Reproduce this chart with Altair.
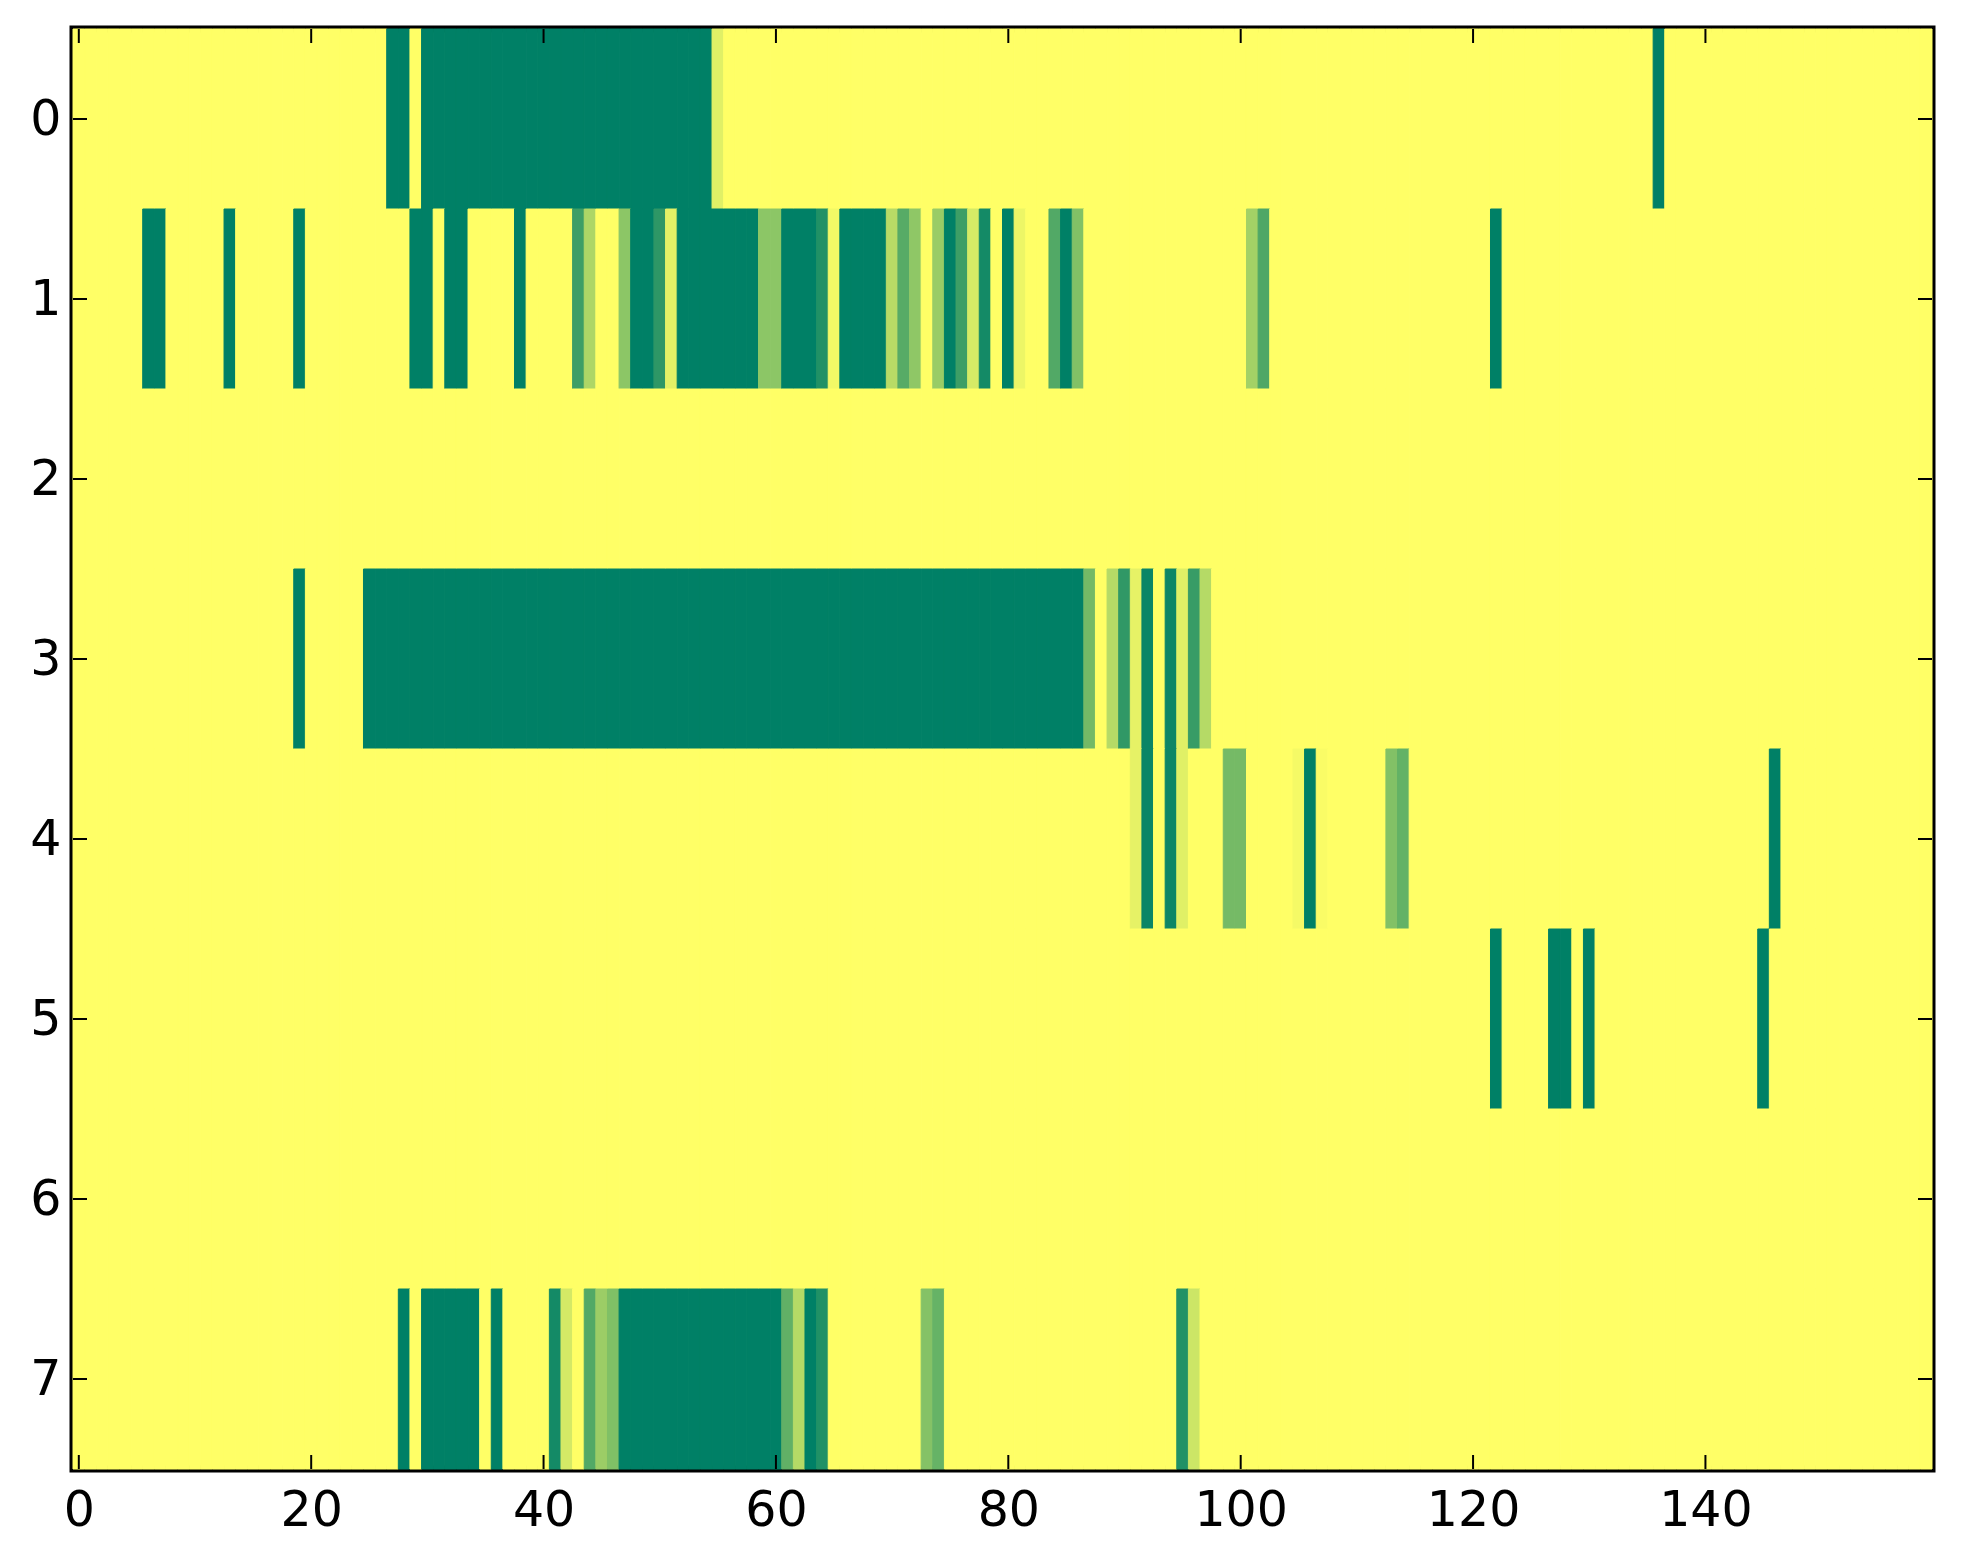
import altair as alt
import pandas as pd

N_ROWS = 8
N_COLS = 160

# Non-zero cells of each row: (first column, last column, value)
row0 = [(27, 28, 1.0), (30, 54, 1.0), (55, 55, 0.12), (136, 136, 1.0)]
row1 = [(6, 7, 1.0), (13, 13, 1.0), (19, 19, 1.0), (29, 30, 1.0), (32, 33, 1.0),
        (38, 38, 1.0), (43, 43, 0.76), (44, 44, 0.32), (47, 47, 0.45), (48, 49, 1.0),
        (50, 50, 0.82), (51, 51, 0.11), (52, 58, 1.0), (59, 60, 0.45), (61, 63, 1.0),
        (64, 64, 0.87), (65, 65, 0.05), (66, 69, 1.0), (70, 70, 0.28), (71, 71, 0.66),
        (72, 72, 0.44), (74, 74, 0.40), (75, 75, 1.0), (76, 76, 0.76), (77, 77, 0.16),
        (78, 78, 0.92), (80, 80, 1.0), (81, 81, 0.07), (84, 84, 0.68), (85, 85, 1.0),
        (86, 86, 0.49), (101, 101, 0.36), (102, 102, 0.69), (122, 122, 1.0)]
row2 = []
row3 = [(19, 19, 1.0), (25, 86, 1.0), (87, 87, 0.55), (89, 89, 0.29), (90, 90, 0.81),
        (91, 91, 0.10), (92, 92, 0.96), (94, 94, 0.95), (95, 95, 0.12), (96, 96, 0.78),
        (97, 97, 0.29)]
row4 = [(91, 91, 0.10), (92, 92, 0.96), (94, 94, 0.95), (95, 95, 0.12), (99, 100, 0.54),
        (105, 105, 0.04), (106, 106, 1.0), (107, 107, 0.02), (113, 113, 0.49),
        (114, 114, 0.61), (146, 146, 1.0)]
row5 = [(122, 122, 1.0), (127, 128, 1.0), (130, 130, 1.0), (145, 145, 1.0)]
row6 = []
row7 = [(28, 28, 1.0), (30, 34, 1.0), (36, 36, 1.0), (41, 41, 0.92), (42, 42, 0.17),
        (44, 44, 0.68), (45, 45, 0.39), (46, 46, 0.50), (47, 60, 1.0), (61, 61, 0.62),
        (62, 62, 0.29), (63, 63, 1.0), (64, 64, 0.87), (73, 73, 0.48), (74, 74, 0.60),
        (95, 95, 0.87), (96, 96, 0.20)]
rows = [row0, row1, row2, row3, row4, row5, row6, row7]

x_ticks = [0, 20, 40, 60, 80, 100, 120, 140]
y_ticks = [0, 1, 2, 3, 4, 5, 6, 7]

# Build the full matrix table
records = []
for r, segs in enumerate(rows):
    vals = [0.0] * N_COLS
    for a, b, v in segs:
        for c in range(a, b + 1):
            vals[c] = v
    for c, v in enumerate(vals):
        records.append({"row": r, "col": c, "v": v,
                        "x0": c - 0.5, "x1": c + 0.5, "y0": r - 0.5, "y1": r + 0.5})
df = pd.DataFrame(records)

W, H = 1859, 1440
TICK = 14
FONT = "DejaVu Sans"
FS = 49

xscale = alt.Scale(domain=[-0.5, N_COLS - 0.5], nice=False, zero=False)
yscale = alt.Scale(domain=[-0.5, N_ROWS - 0.5], nice=False, zero=False, reverse=True)
cscale = alt.Scale(domain=[0, 1], range=["#ffff66", "#008066"], interpolate="rgb")

heat = alt.Chart(df).mark_rect(strokeWidth=1).encode(
    x=alt.X("x0:Q", scale=xscale, title=None,
            axis=alt.Axis(values=x_ticks, format="d", ticks=False, tickSize=0, domain=False,
                          grid=False, labelFont=FONT, labelFontSize=FS, labelColor="black",
                          labelPadding=17, labelFlush=False, labelOverlap=False)),
    x2="x1:Q",
    y=alt.Y("y0:Q", scale=yscale, title=None,
            axis=alt.Axis(values=y_ticks, format="d", ticks=False, tickSize=0, domain=False,
                          grid=False, labelFont=FONT, labelFontSize=FS, labelColor="black",
                          labelPadding=12, labelFlush=False, labelOverlap=False)),
    y2="y1:Q",
    color=alt.Color("v:Q", scale=cscale, legend=None),
    stroke=alt.Stroke("v:Q", scale=cscale, legend=None),
)

xt = pd.DataFrame({"t": x_ticks})
yt = pd.DataFrame({"t": y_ticks})

bottom_ticks = alt.Chart(xt).mark_rule(color="black", strokeWidth=2).encode(
    x=alt.X("t:Q", scale=xscale), y=alt.value(H - TICK), y2=alt.value(H))
top_ticks = alt.Chart(xt).mark_rule(color="black", strokeWidth=2).encode(
    x=alt.X("t:Q", scale=xscale), y=alt.value(0), y2=alt.value(TICK))
left_ticks = alt.Chart(yt).mark_rule(color="black", strokeWidth=2).encode(
    y=alt.Y("t:Q", scale=yscale), x=alt.value(0), x2=alt.value(TICK))
right_ticks = alt.Chart(yt).mark_rule(color="black", strokeWidth=2).encode(
    y=alt.Y("t:Q", scale=yscale), x=alt.value(W - TICK), x2=alt.value(W))

chart = alt.layer(heat, bottom_ticks, top_ticks, left_ticks, right_ticks).properties(
    width=W, height=H,
    autosize=alt.AutoSizeParams(type="none"),
    padding={"left": 65, "top": 21, "right": 20, "bottom": 80},
    background="white",
).configure_view(stroke="black", strokeWidth=7)

chart.save("out.html", embed_options={"renderer": "svg", "actions": False})
